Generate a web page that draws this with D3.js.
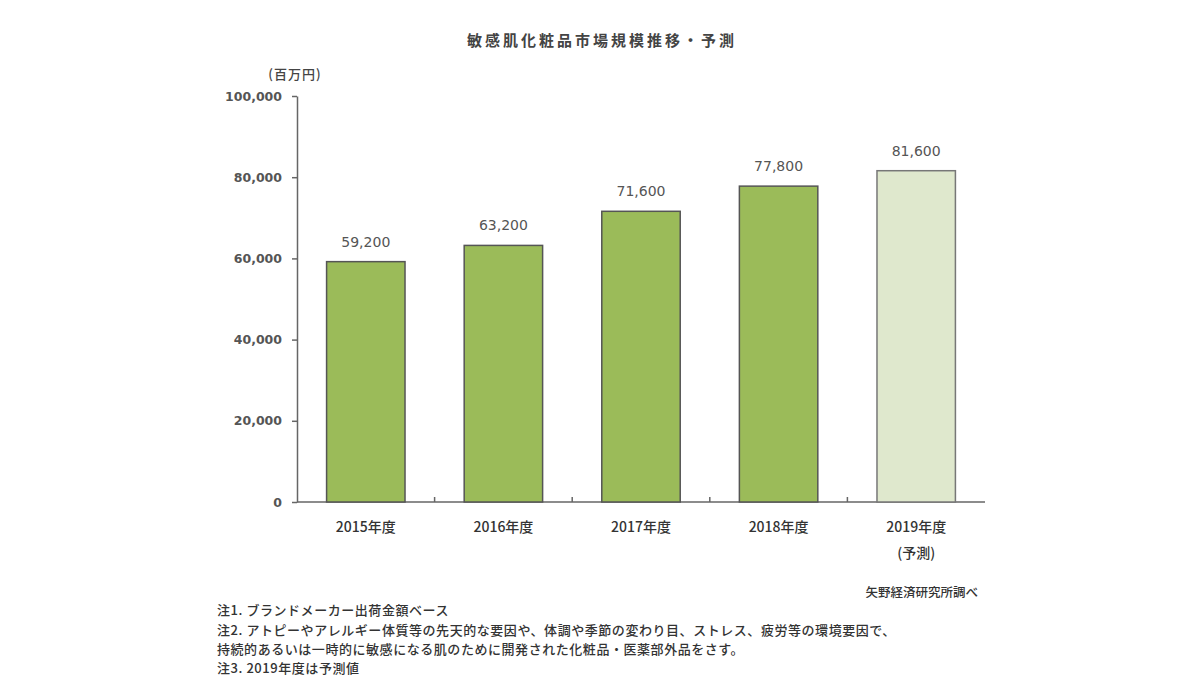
<!DOCTYPE html>
<html><head><meta charset="utf-8">
<script src="https://cdn.jsdelivr.net/npm/d3@7/dist/d3.min.js"></script>
<style>
body{margin:0;background:#fff;}
svg{display:block;}
text{font-family:"DejaVu Sans","Noto Sans CJK JP",sans-serif;fill:#555;}
.jp{font-family:"Noto Sans CJK JP",sans-serif;}
</style></head><body>
<svg id="c" width="1203" height="700"></svg>
<script>
const categories = ["2015年度","2016年度","2017年度","2018年度","2019年度"];
const subLabels = ["","","","","(予測)"];
const values = [59200, 63200, 71600, 77800, 81600];
const forecast = [false,false,false,false,true];
const yTicks = [0,20000,40000,60000,80000,100000];
const title = "敏感肌化粧品市場規模推移・予測";
const unit = "(百万円)";
const source = "矢野経済研究所調べ";
const notes = [
  "注1. ブランドメーカー出荷金額ベース",
  "注2. アトピーやアレルギー体質等の先天的な要因や、体調や季節の変わり目、ストレス、疲労等の環境要因で、",
  "持続的あるいは一時的に敏感になる肌のために開発された化粧品・医薬部外品をさす。",
  "注3. 2019年度は予測値"
];

const svg = d3.select("#c");
const m = {left:297, right:985, top:96, bottom:502};
const x = d3.scaleBand().domain(categories).range([m.left, m.right]).paddingInner(0.43).paddingOuter(0.215);
const xb = d3.scaleBand().domain(categories).range([m.left, m.right]);
const y = d3.scaleLinear().domain([0,100000]).range([m.bottom, m.top]);

// title
svg.append("text").attr("class","jp").attr("x",602).attr("y",46).attr("text-anchor","middle")
  .style("font-size","15px").style("font-weight","bold").style("letter-spacing","3px").style("fill","#444").text(title);
svg.append("text").attr("class","jp").attr("x",295).attr("y",79).attr("text-anchor","middle")
  .style("font-size","13px").style("font-weight","500").style("letter-spacing","1px").style("fill","#444").text(unit);

// y axis
const yAxis = d3.axisLeft(y).tickValues(yTicks).tickFormat(d3.format(",")).tickSize(5).tickSizeOuter(0).tickPadding(10);
const gy = svg.append("g").attr("transform",`translate(${m.left},0)`).call(yAxis);
gy.select(".domain").attr("stroke","#666").attr("stroke-width",1.5);
gy.selectAll(".tick line").attr("stroke","#666").attr("stroke-width",1.5);
gy.selectAll(".tick text").style("font-size","12.5px").style("font-family","DejaVu Sans").style("font-weight","bold").style("fill","#555");

// x axis line and boundary ticks
svg.append("line").attr("x1",m.left).attr("x2",m.right).attr("y1",y(0)).attr("y2",y(0)).attr("stroke","#666").attr("stroke-width",1.5);
svg.append("g").selectAll("line").data(categories.slice(1)).join("line")
  .attr("x1",d=>xb(d)).attr("x2",d=>xb(d)).attr("y1",y(0)).attr("y2",y(0)-5)
  .attr("stroke","#666").attr("stroke-width",1.5);

// bars
svg.append("g").selectAll("rect").data(values).join("rect")
  .attr("x",(d,i)=>x(categories[i])).attr("width",x.bandwidth())
  .attr("y",d=>y(d)).attr("height",d=>y(0)-y(d))
  .attr("fill",(d,i)=>forecast[i]?"#dfe8cd":"#9bbb59")
  .attr("stroke",(d,i)=>forecast[i]?"#777":"#555").attr("stroke-width",1.5);

// value labels
svg.append("g").selectAll("text").data(values).join("text")
  .attr("x",(d,i)=>x(categories[i])+x.bandwidth()/2).attr("y",d=>y(d)-15)
  .attr("text-anchor","middle").style("font-size","14px").style("fill","#555")
  .text(d=>d3.format(",")(d));

// category labels
svg.append("g").selectAll("text").data(categories).join("text")
  .attr("class","jp").attr("x",d=>x(d)+x.bandwidth()/2).attr("y",532)
  .attr("text-anchor","middle").style("font-size","14px").style("font-weight","500").style("fill","#333").text(d=>d);
svg.append("g").selectAll("text").data(subLabels).join("text")
  .attr("class","jp").attr("x",(d,i)=>x(categories[i])+x.bandwidth()/2).attr("y",558)
  .attr("text-anchor","middle").style("font-size","14px").style("font-weight","500").style("fill","#333").text(d=>d);

// source
svg.append("text").attr("class","jp").attr("x",978).attr("y",597).attr("text-anchor","end")
  .style("font-size","12.5px").style("font-weight","500").style("fill","#333").text(source);

// notes
svg.append("g").selectAll("text").data(notes).join("text")
  .attr("class","jp").attr("x",217).attr("y",(d,i)=>[615,635,654,673][i])
  .style("font-size","13px").style("letter-spacing","0.55px").style("font-weight","500").style("fill","#333").text(d=>d);
</script></body></html>
